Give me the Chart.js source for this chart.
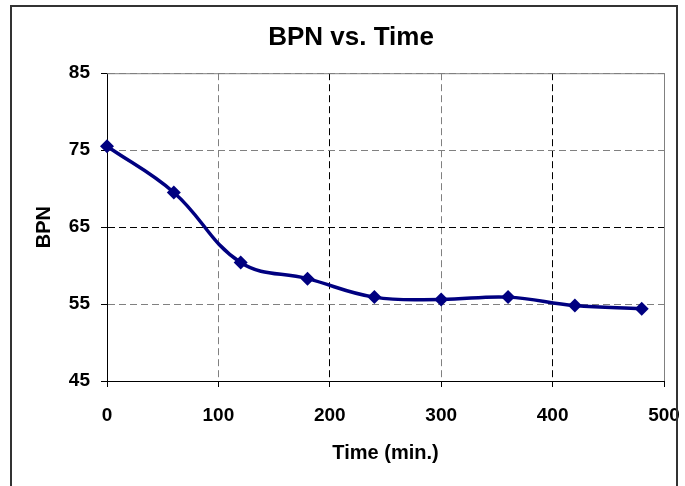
<!DOCTYPE html>
<html>
<head>
<meta charset="utf-8">
<script src="https://cdn.jsdelivr.net/npm/chart.js@4.4.1/dist/chart.umd.min.js"></script>
<style>
  body { margin: 0; background: #fff; }
  #wrap { position: relative; width: 685px; height: 486px; overflow: hidden; }
  #frame { position: absolute; left: 10px; top: 5px; width: 664px; height: 520px; border: 2px solid #333; pointer-events: none; }
</style>
</head>
<body>
<div id="wrap">
  <canvas id="myChart" width="685" height="486"></canvas>
  <div id="frame"></div>
</div>
<script>
// data
const times = [0, 60, 120, 180, 240, 300, 360, 420, 480];
const bpn = [75.5, 69.5, 60.4, 58.3, 55.9, 55.6, 55.9, 54.8, 54.4];

const xTicks = [0, 100, 200, 300, 400, 500];
const yTicks = [45, 55, 65, 75, 85];

const font = 'Liberation Sans, Arial, sans-serif';

// grey top/right edge of the plot area, like Excel's plot frame
const plotFrame = {
  id: 'plotFrame',
  afterDatasetsDraw(chart) {
    const a = chart.chartArea;
    const c = chart.ctx;
    c.save();
    c.strokeStyle = '#808080';
    c.lineWidth = 1;
    c.beginPath();
    c.moveTo(a.left, a.top + 0.5);
    c.lineTo(a.right + 0.5, a.top + 0.5);
    c.lineTo(a.right + 0.5, a.bottom);
    c.stroke();
    c.restore();
  }
};

const ctx = document.getElementById('myChart');

new Chart(ctx, {
  type: 'line',
  data: {
    datasets: [{
      label: 'BPN',
      data: times.map((t, i) => ({ x: t, y: bpn[i] })),
      borderColor: '#000080',
      backgroundColor: '#000080',
      borderWidth: 3.5,
      tension: 0.4,
      pointStyle: 'rectRot',
      pointRadius: 7,
      pointBorderWidth: 0,
      clip: false
    }]
  },
  plugins: [plotFrame],
  options: {
    responsive: false,
    animation: false,
    layout: { padding: { left: 20, right: 3, top: 0, bottom: 0 } },
    plugins: {
      legend: { display: false },
      tooltip: { enabled: false },
      title: {
        display: true,
        text: 'BPN vs. Time',
        color: '#000',
        font: { family: font, size: 26, weight: 'bold' },
        padding: { top: 22, bottom: 20 }
      }
    },
    scales: {
      x: {
        type: 'linear',
        min: 0,
        max: 500,
        afterBuildTicks: s => { s.ticks = xTicks.map(v => ({ value: v })); },
        afterFit: s => { s.height = 105; s.paddingRight = 21; },
        ticks: { color: '#000', padding: 17, font: { family: font, size: 19, weight: 'bold' } },
        grid: {
          color: c => (c.tick && c.tick.value % 200 === 0 ? '#000' : '#808080'),
          tickColor: '#000',
          tickLength: 6,
          lineWidth: 1
        },
        border: { color: '#000', width: 1, dash: [7, 4] },
        title: {
          display: true,
          text: 'Time (min.)',
          color: '#000',
          font: { family: font, size: 20, weight: 'bold' },
          padding: { top: 0, bottom: 21 }
        }
      },
      y: {
        min: 45,
        max: 85,
        afterBuildTicks: s => { s.ticks = yTicks.map(v => ({ value: v })); },
        afterFit: s => { s.width = 87; },
        ticks: { color: '#000', padding: 11, font: { family: font, size: 19, weight: 'bold' } },
        grid: {
          color: c => (c.tick && c.tick.value === 65 ? '#000' : '#808080'),
          tickColor: '#000',
          tickLength: 6,
          lineWidth: 1
        },
        border: { color: '#000', width: 1, dash: [7, 4] },
        title: {
          display: true,
          text: 'BPN',
          color: '#000',
          font: { family: font, size: 20, weight: 'bold' },
          padding: { top: 12, bottom: 0 }
        }
      }
    }
  }
});
</script>
</body>
</html>
